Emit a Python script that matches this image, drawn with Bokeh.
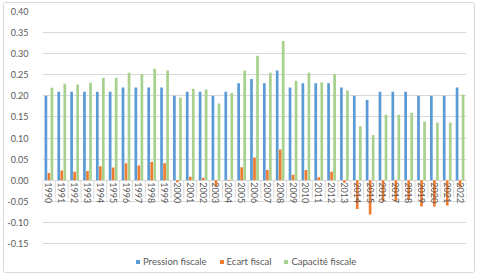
import math
from bokeh.plotting import figure
from bokeh.models import (ColumnDataSource, FactorRange, Range1d, FixedTicker,
                          NumeralTickFormatter, Legend, LegendItem)
from bokeh.core.properties import value
from bokeh.transform import dodge
from bokeh.embed import file_html
from bokeh.resources import INLINE

years = ["1990", "1991", "1992", "1993", "1994", "1995", "1996", "1997", "1998", "1999",
         "2000", "2001", "2002", "2003", "2004", "2005", "2006", "2007", "2008", "2009",
         "2010", "2011", "2012", "2013", "2014", "2015", "2016", "2017", "2018", "2019",
         "2020", "2021", "2022"]

pression = [0.20, 0.21, 0.21, 0.21, 0.21, 0.21, 0.22, 0.22, 0.22, 0.22,
            0.20, 0.21, 0.21, 0.20, 0.21, 0.23, 0.24, 0.23, 0.26, 0.22,
            0.23, 0.23, 0.23, 0.22, 0.20, 0.19, 0.21, 0.21, 0.21, 0.20,
            0.20, 0.20, 0.22]

ecart = [0.017, 0.023, 0.020, 0.022, 0.033, 0.030, 0.040, 0.035, 0.043, 0.040,
         -0.005, 0.008, 0.006, -0.015, -0.002, 0.031, 0.054, 0.024, 0.073, 0.013,
         0.024, 0.007, 0.020, -0.006, -0.068, -0.081, -0.050, -0.050, -0.047, -0.062,
         -0.062, -0.060, -0.017]

capacite = [0.219, 0.229, 0.227, 0.231, 0.243, 0.243, 0.255, 0.252, 0.264, 0.260,
            0.196, 0.217, 0.215, 0.182, 0.207, 0.260, 0.295, 0.255, 0.330, 0.236,
            0.255, 0.232, 0.252, 0.213, 0.128, 0.107, 0.155, 0.155, 0.160, 0.139,
            0.137, 0.137, 0.203]

y_ticks = [-0.15, -0.10, -0.05, 0.00, 0.05, 0.10, 0.15, 0.20, 0.25, 0.30, 0.35, 0.40]
series_labels = ["Pression fiscale", "Ecart fiscal", "Capacité fiscale"]

BLUE = "#5B9BD5"
ORANGE = "#ED7D31"
GREEN = "#A9D18E"
GRID = "#D9D9D9"
TEXT = "#595959"
FONT = "Lato"

src = ColumnDataSource(dict(year=years, pression=pression, ecart=ecart, capacite=capacite,
                            zero=[0.0] * len(years), tick_end=[-0.043] * len(years)))
last = ColumnDataSource(dict(year=years[-1:], zero=[0.0], tick_end=[-0.043]))

# y range extends below the last tick to leave room for the legend inside the frame
p = figure(x_range=FactorRange(*years, range_padding=0),
           y_range=Range1d(-0.2235, y_ticks[-1]),
           width=472, height=271,
           output_backend="svg", toolbar_location=None,
           min_border_left=36, min_border_right=10, min_border_top=8, min_border_bottom=0)
p.styles = {"margin-left": "3px", "margin-top": "2px",
            "border": "1px solid #D9D9D9", "border-radius": "3px"}

p.outline_line_color = None
p.background_fill_color = "white"
p.border_fill_color = "white"
p.xaxis.visible = False

# separators (category tick marks)
p.segment(x0=dodge("year", -0.5, range=p.x_range), y0="zero",
          x1=dodge("year", -0.5, range=p.x_range), y1="tick_end",
          source=src, line_color=GRID, line_width=1)
p.segment(x0=dodge("year", 0.5, range=p.x_range), y0="zero",
          x1=dodge("year", 0.5, range=p.x_range), y1="tick_end",
          source=last, line_color=GRID, line_width=1)

w = 0.21
r1 = p.vbar(x=dodge("year", -0.235, range=p.x_range), top="pression", width=w,
            source=src, fill_color=BLUE, line_color=None)
r2 = p.vbar(x=dodge("year", 0.0, range=p.x_range), top="ecart", bottom="zero", width=w,
            source=src, fill_color=ORANGE, line_color=None)
r3 = p.vbar(x=dodge("year", 0.235, range=p.x_range), top="capacite", width=w,
            source=src, fill_color=GREEN, line_color=None)

# category labels at the zero line, rotated to read top to bottom
p.text(x="year", y="zero", text="year", source=src, angle=-math.pi / 2,
       text_align="left", text_baseline="middle", y_offset=2,
       text_font=value(FONT), text_font_size="9px", text_color=TEXT)

p.yaxis.ticker = FixedTicker(ticks=y_ticks)
p.yaxis.formatter = NumeralTickFormatter(format="0.00")
p.yaxis.axis_line_color = None
p.yaxis.major_tick_line_color = None
p.yaxis.minor_tick_line_color = None
p.yaxis.major_label_standoff = 8
p.yaxis.major_label_text_font = FONT
p.yaxis.major_label_text_font_size = "9px"
p.yaxis.major_label_text_color = TEXT

p.xgrid.grid_line_color = None
p.ygrid.ticker = FixedTicker(ticks=y_ticks)
p.ygrid.grid_line_color = GRID
p.ygrid.grid_line_width = 1

legend = Legend(items=[LegendItem(label=series_labels[0], renderers=[r1]),
                       LegendItem(label=series_labels[1], renderers=[r2]),
                       LegendItem(label=series_labels[2], renderers=[r3])],
                orientation="horizontal", location=(93, 7))
legend.border_line_color = None
legend.background_fill_alpha = 0
legend.glyph_width = 5
legend.glyph_height = 5
legend.label_height = 10
legend.label_standoff = 3
legend.spacing = 12
legend.padding = 0
legend.margin = 0
legend.label_text_font = FONT
legend.label_text_font_size = "9.5px"
legend.label_text_color = TEXT
p.add_layout(legend)

open("out.html", "w").write(file_html(p, INLINE))
